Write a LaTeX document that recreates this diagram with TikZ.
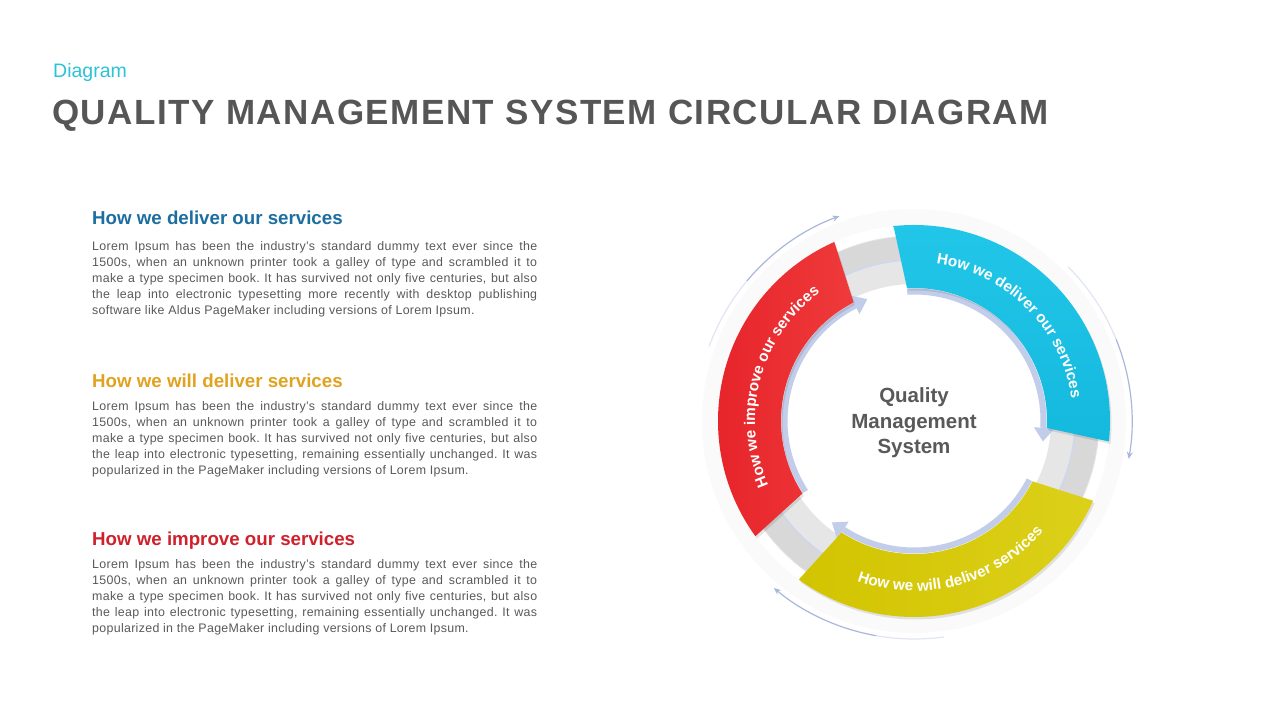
\documentclass[tikz,border=0pt]{standalone}
\usepackage{fontspec}
\setmainfont{Liberation Sans}
\newfontfamily\titlefont[LetterSpace=4.3]{Liberation Sans}
\newfontfamily\bodyfont[LetterSpace=2.5]{Liberation Sans}
\usetikzlibrary{decorations.text,arrows.meta}
\definecolor{diagcyan}{HTML}{2BC3D6}
\definecolor{titlegrey}{HTML}{565656}
\definecolor{bodygrey}{HTML}{595959}
\definecolor{headblue}{HTML}{1C6EA0}
\definecolor{headgold}{HTML}{E1A21F}
\definecolor{headred}{HTML}{D0202B}
\definecolor{bandcyan}{HTML}{14B9DE}
\definecolor{bandcyanL}{HTML}{22C6E8}
\definecolor{bandred}{HTML}{E6232A}
\definecolor{bandredL}{HTML}{EF3A3B}
\definecolor{bandyellow}{HTML}{D2C400}
\definecolor{bandyellowL}{HTML}{DCD01A}
\definecolor{ringout}{HTML}{D8D8D8}
\definecolor{ringin}{HTML}{E6E6E6}
\definecolor{lav}{HTML}{C2CDEA}
\definecolor{arrowblue}{HTML}{A9B7DD}
\newcommand\bandfont{\fontsize{15.3}{15.3}\selectfont\bfseries}
\tikzset{
  heading/.style={anchor=base west, inner sep=0pt, font=\fontsize{18.7}{22}\selectfont\bfseries},
  bodytext/.style={anchor=base west, inner sep=0pt, text width=445pt, align=justify, text=bodygrey, font=\bodyfont\fontsize{12.4}{16}\selectfont\frenchspacing},
  thinarrow/.style={arrowblue, line width=1.2pt, -{Stealth[length=7pt,width=6pt]}},
  thinfade/.style={arrowblue, line width=1.2pt, opacity=.35},
  innerstrip/.style={lav, line width=6pt},
  bandshadow/.style={black, opacity=.10, shift={(1.5,-2.5)}},
}
\begin{document}
\begin{tikzpicture}[x=1pt,y=1pt]
\useasboundingbox (0,0) rectangle (1280,720);
\fill[white] (0,0) rectangle (1280,720);

% titles
\node[anchor=base west, inner sep=0pt, text=diagcyan, font=\fontsize{19.5}{22}\selectfont] (sub) at (53,642.5) {Diagram};
\node[anchor=base west, inner sep=0pt, text=titlegrey, font=\titlefont\bfseries\fontsize{35}{40}\selectfont] (title) at (52,595.5) {QUALITY MANAGEMENT SYSTEM CIRCULAR DIAGRAM};

% block 1
\node[heading, text=headblue] (h1) at (92,495) {How we deliver our services};
\node[bodytext] (b1) at (92,469.3) {Lorem Ipsum has been the industry’s standard dummy text ever since the\linebreak
1500s, when an unknown printer took a galley of type and scrambled it to\linebreak
make a type specimen book. It has survived not only five centuries, but also\linebreak
the leap into electronic typesetting more recently with desktop publishing\linebreak
software like Aldus PageMaker including versions of Lorem Ipsum.};

% block 2
\node[heading, text=headgold] (h2) at (92,332.3) {How we will deliver services};
\node[bodytext] (b2) at (92,309.3) {Lorem Ipsum has been the industry’s standard dummy text ever since the\linebreak
1500s, when an unknown printer took a galley of type and scrambled it to\linebreak
make a type specimen book. It has survived not only five centuries, but also\linebreak
the leap into electronic typesetting, remaining essentially unchanged. It was\linebreak
popularized in the PageMaker including versions of Lorem Ipsum.};

% block 3
\node[heading, text=headred] (h3) at (92,174.3) {How we improve our services};
\node[bodytext] (b3) at (92,151) {Lorem Ipsum has been the industry’s standard dummy text ever since the\linebreak
1500s, when an unknown printer took a galley of type and scrambled it to\linebreak
make a type specimen book. It has survived not only five centuries, but also\linebreak
the leap into electronic typesetting, remaining essentially unchanged. It was\linebreak
popularized in the PageMaker including versions of Lorem Ipsum.};

% circular diagram
\begin{scope}[shift={(914,299)}]
  % faint halo
  \draw[black!2, line width=16pt] (0,0) circle[radius=204];
  % grey ring
  \draw[ringout, line width=24pt] (0,0) circle[radius=173];
  \draw[ringin, line width=24pt] (0,0) circle[radius=149];
  \draw[lav!80, line width=1.5pt] (0,0) circle[radius=161];
  \draw[black!10, line width=0.8pt] (0,0) circle[radius=185];

  % inner strips with arrow heads
  \draw[innerstrip] (93:129.5) arc[start angle=93, end angle=-3, radius=129.5];
  \fill[lav] (-3:120) -- (-3:141) -- (-9:130.5) -- cycle;
  \draw[innerstrip] (213:129.5) arc[start angle=213, end angle=117, radius=129.5];
  \fill[lav] (117:120) -- (117:141) -- (111:130.5) -- cycle;
  \draw[innerstrip] (-27:129.5) arc[start angle=-27, end angle=-123, radius=129.5];
  \fill[lav] (-123:120) -- (-123:141) -- (-129:130.5) -- cycle;

  % band shadows
  \fill[bandshadow] (96:196) arc[start angle=96, end angle=-6, radius=196] -- (-3:133) arc[start angle=-3, end angle=93, radius=133] -- cycle;
  \fill[bandshadow] (216:196) arc[start angle=216, end angle=114, radius=196] -- (117:133) arc[start angle=117, end angle=213, radius=133] -- cycle;
  \fill[bandshadow] (-24:196) arc[start angle=-24, end angle=-126, radius=196] -- (-123:133) arc[start angle=-123, end angle=-27, radius=133] -- cycle;

  % bands
  \shade[top color=bandcyanL, bottom color=bandcyan] (96:196) arc[start angle=96, end angle=-6, radius=196] -- (-3:133) arc[start angle=-3, end angle=93, radius=133] -- cycle;
  \shade[left color=bandred, right color=bandredL] (216:196) arc[start angle=216, end angle=114, radius=196] -- (117:133) arc[start angle=117, end angle=213, radius=133] -- cycle;
  \shade[left color=bandyellow, right color=bandyellowL] (-24:196) arc[start angle=-24, end angle=-126, radius=196] -- (-123:133) arc[start angle=-123, end angle=-27, radius=133] -- cycle;

  % band labels
  \path[decorate, decoration={text along path, text={|\bandfont|How we deliver our services}, text align=center, text color=white}] (96:159) arc[start angle=96, end angle=-6, radius=159];
  \path[decorate, decoration={text along path, text={|\bandfont|How we improve our services}, text align=center, text color=white}] (216:159) arc[start angle=216, end angle=114, radius=159];
  \path[decorate, decoration={text along path, text={|\bandfont|How we will deliver services}, text align=center, text color=white}] (-126:170) arc[start angle=-126, end angle=-24, radius=170];

  % thin outer arrows
  \draw[thinfade] (160:218) arc[start angle=160, end angle=140, radius=218];
  \draw[thinarrow] (140:218) arc[start angle=140, end angle=110, radius=218];
  \draw[thinfade] (45:218) arc[start angle=45, end angle=22, radius=218];
  \draw[thinarrow] (22:218) arc[start angle=22, end angle=-10, radius=218];
  \draw[thinfade] (-82:218) arc[start angle=-82, end angle=-100, radius=218];
  \draw[thinarrow] (-100:218) arc[start angle=-100, end angle=-130, radius=218];

  \node[font=\fontsize{20.5}{25.5}\selectfont\bfseries, text=bodygrey, align=center] (qms) at (0,-2) {Quality\\Management\\System};
\end{scope}
\end{tikzpicture}
\end{document}
